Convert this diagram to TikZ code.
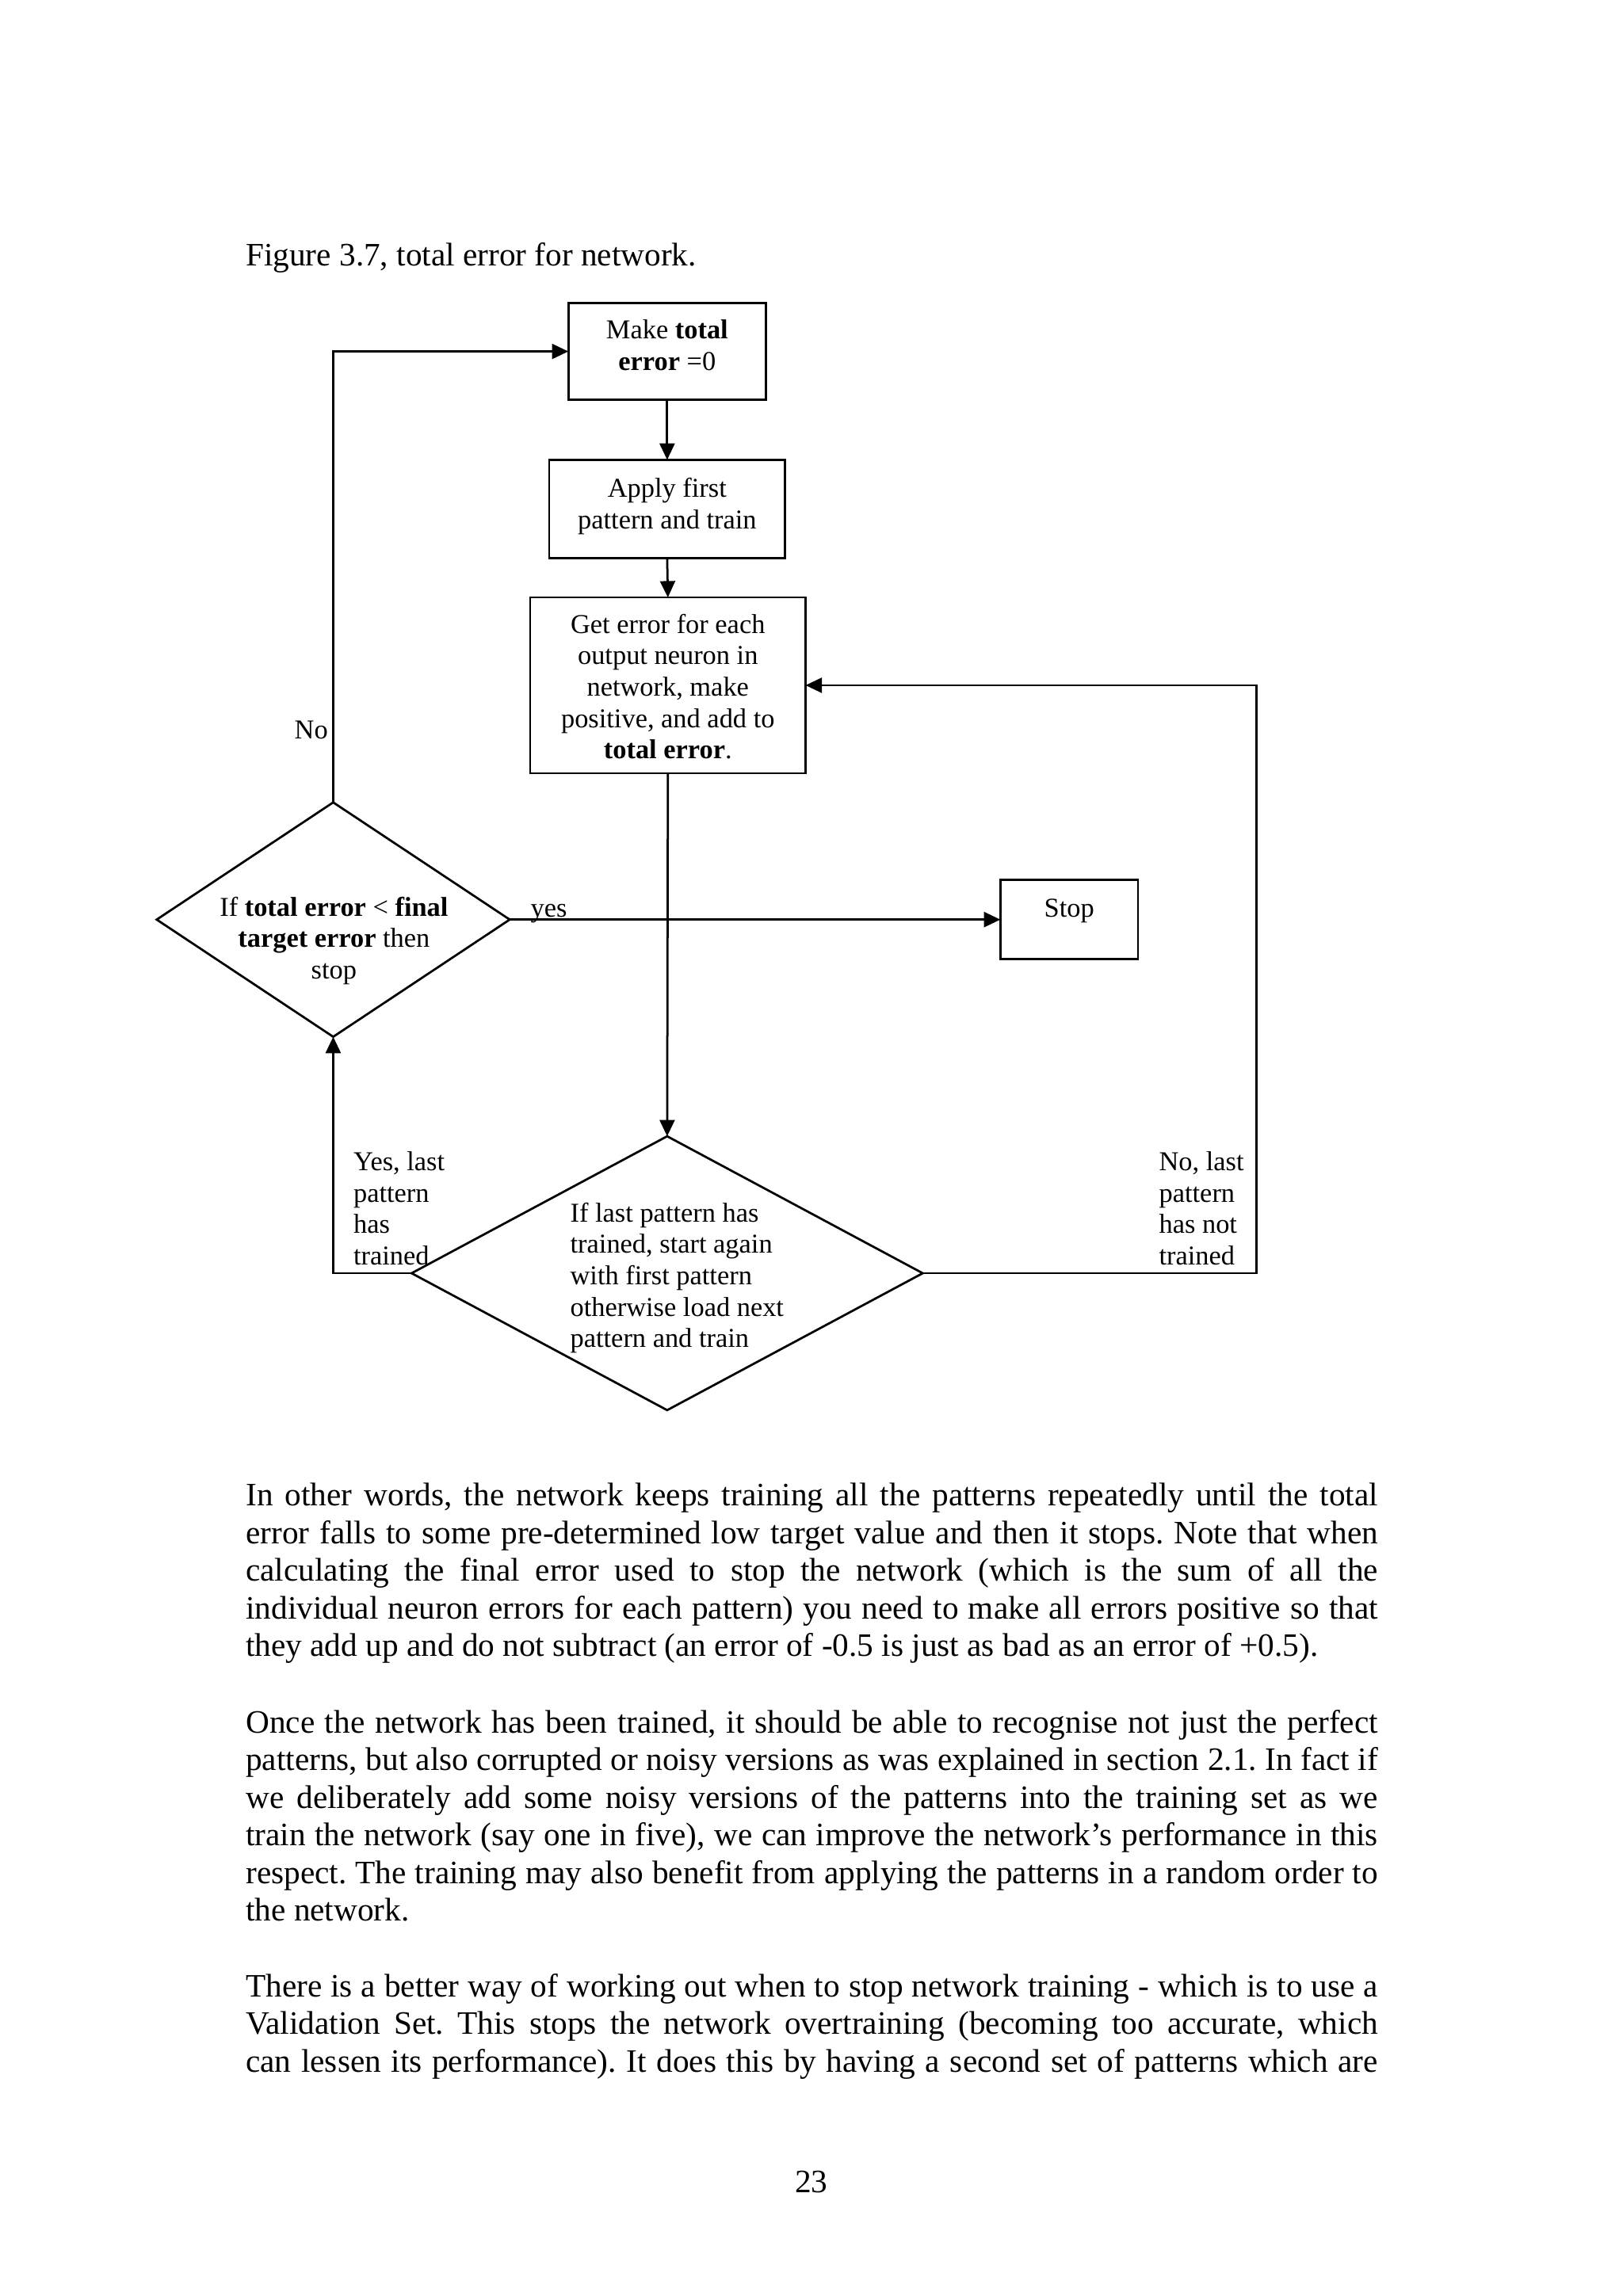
\documentclass[tikz,border=0pt]{standalone}
\usepackage{fontspec}
\setmainfont{Liberation Serif}
\usetikzlibrary{shapes.geometric,arrows.meta}
\newcommand\ctab[1]{\begin{tabular}[t]{@{}c@{}}#1\end{tabular}}
\newcommand\ltab[1]{\begin{tabular}[t]{@{}l@{}}#1\end{tabular}}
\begin{document}
\begin{tikzpicture}[x=0.5373pt,y=-0.5373pt,
  box/.style={draw,line width=0.8pt,rectangle,inner sep=0,outer sep=0},
  dia/.style={draw,line width=0.8pt,diamond,inner sep=0,outer sep=0},
  conn/.style={line width=0.8pt},
  arr/.style={conn,-{Triangle[length=6pt,width=5.5pt]}},
  dtext/.style={inner sep=0,anchor=base,font=\fontsize{10}{11.5}\selectfont},
  body/.style={inner sep=0,anchor=base west,font=\fontsize{12}{13.8}\selectfont}]
\useasboundingbox (0,0) rectangle (1108,1568);
\fill[white] (0,0) rectangle (1108,1568);
% shapes
\node[box,minimum width=72.5pt,minimum height=35.5pt] (b1) at (455.5,240) {};
\node[box,minimum width=86.5pt,minimum height=36pt] (b2) at (455.5,347.5) {};
\node[box,minimum width=101pt,minimum height=64.5pt] (b3) at (456,468) {};
\node[box,minimum width=50.5pt,minimum height=29pt] (stop) at (730,628) {};
\node[dia,minimum width=129.5pt,minimum height=86pt] (d1) at (227.5,628) {};
\node[dia,minimum width=187.5pt,minimum height=100.5pt] (d2) at (455.5,869.5) {};
\coordinate (rc) at (858,468);
% texts in shapes
\node[dtext] (t1) at (455.5,231.5) {\ctab{Make \textbf{total}\\\textbf{error} =0}};
\node[dtext] (t2) at (455.5,339.5) {\ctab{Apply first\\pattern and train}};
\node[dtext] (t3) at (456,432.5) {\ctab{Get error for each\\output neuron in\\network, make\\positive, and add to\\\textbf{total error}.}};
\node[dtext] (t4) at (228,625.5) {\ctab{If \textbf{total error} < \textbf{final}\\\textbf{target error} then\\stop}};
\node[dtext] (t5) at (730,626.5) {Stop};
\node[dtext,anchor=base west] (t6) at (389,834.5) {\ltab{If last pattern has\\trained, start again\\with first pattern\\otherwise load next\\pattern and train}};
% connector labels
\node[dtext,anchor=base west] (l1) at (241,799.5) {\ltab{Yes, last\\pattern\\has\\trained}};
\node[dtext,anchor=base west] (l2) at (791,799.5) {\ltab{No, last\\pattern\\has not\\trained}};
\node[dtext] (l3) at (212.5,504.5) {No};
\node[dtext,anchor=base west] (l4) at (362,626.5) {yes};
% connectors
\draw[arr] (b1.south) -- (b2.north);
\draw[arr] (b2.south) -- (b3.north);
\draw[arr] (b3.south) -- (d2.north);
\draw[arr] (d1.east) -- (stop.west);
\draw[arr] (d2.west) -| (d1.south);
\draw[arr] (d2.east) -| (rc) -- (b3.east);
\draw[arr] (d1.north) |- (b1.west);
% page text
\node[body] (title) at (167.5,181.5) {Figure 3.7, total error for network.};
\node[body] (p1) at (167.5,1028.5) {\parbox[t]{415.3pt}{\frenchspacing\hyphenpenalty=10000\emergencystretch=2em In other words, the network keeps training all the patterns repeatedly until the total\linebreak error falls to some pre-determined low target value and then it stops. Note that when\linebreak calculating the final error used to stop the network (which is the sum of all the\linebreak individual neuron errors for each pattern) you need to make all errors positive so that\linebreak they add up and do not subtract (an error of -0.5 is just as bad as an error of +0.5).}};
\node[body] (p2) at (167.5,1183.5) {\parbox[t]{415.3pt}{\frenchspacing\hyphenpenalty=10000\emergencystretch=2em Once the network has been trained, it should be able to recognise not just the perfect\linebreak patterns, but also corrupted or noisy versions as was explained in section 2.1. In fact if\linebreak we deliberately add some noisy versions of the patterns into the training set as we\linebreak train the network (say one in five), we can improve the network’s performance in this\linebreak respect. The training may also benefit from applying the patterns in a random order to\linebreak the network.}};
\node[body] (p3) at (167.5,1363.5) {\parbox[t]{415.3pt}{\frenchspacing\hyphenpenalty=10000\emergencystretch=2em\parfillskip=0pt There is a better way of working out when to stop network training - which is to use a\linebreak Validation Set. This stops the network overtraining (becoming too accurate, which\linebreak can lessen its performance). It does this by having a second set of patterns which are}};
\node[body,anchor=base] (pg) at (554,1497.5) {23};
\end{tikzpicture}
\end{document}
